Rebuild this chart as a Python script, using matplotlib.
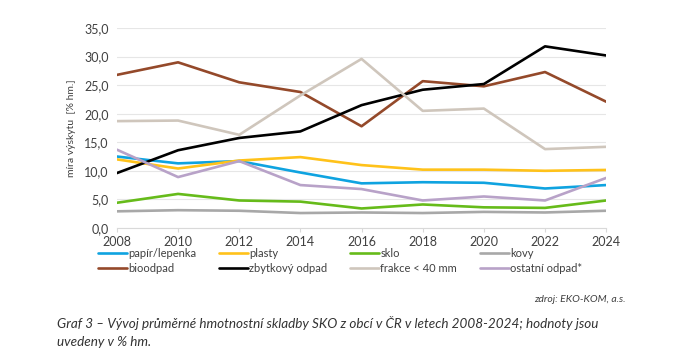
import numpy as np
import matplotlib
matplotlib.use('Agg')
import matplotlib.pyplot as plt

plt.rcParams['font.family'] = ['Lato', 'DejaVu Sans']

years = [2008, 2010, 2012, 2014, 2016, 2018, 2020, 2022, 2024]

papir = [12.5, 11.3, 11.7, 9.7, 7.8, 8.0, 7.9, 6.9, 7.5]
plasty = [12.0, 10.4, 11.8, 12.4, 11.0, 10.2, 10.2, 10.0, 10.15]
sklo = [4.4, 5.95, 4.8, 4.6, 3.4, 4.1, 3.6, 3.5, 4.8]
kovy = [2.9, 3.1, 3.0, 2.6, 2.7, 2.6, 2.8, 2.7, 3.0]
bioodpad = [26.8, 29.0, 25.5, 23.8, 17.8, 25.7, 24.8, 27.3, 22.1]
zbytkovy = [9.6, 13.6, 15.75, 16.9, 21.5, 24.2, 25.2, 31.8, 30.2]
frakce = [18.7, 18.8, 16.3, 23.2, 29.6, 20.5, 20.9, 13.8, 14.2]
ostatni = [13.7, 8.9, 11.7, 7.5, 6.8, 4.8, 5.5, 4.8, 8.75]

series = [
    ('papír/lepenka', papir, '#0FA3E0'),
    ('plasty', plasty, '#FFC21A'),
    ('sklo', sklo, '#66BB1A'),
    ('kovy', kovy, '#A8A8A8'),
    ('bioodpad', bioodpad, '#94492A'),
    ('zbytkový odpad', zbytkovy, '#000000'),
    ('frakce < 40 mm', frakce, '#CFC6BC'),
    ('ostatní odpad*', ostatni, '#B8A2C8'),
]

fig = plt.figure(figsize=(7, 3.6), dpi=100)
ax = fig.add_axes([0.167, 0.367, 0.699, 0.555])

lines = []
for name, vals, col in series:
    ln, = ax.plot(years, vals, color=col, lw=1.9, label=name, solid_capstyle='round')
    lines.append(ln)

ax.set_xlim(2008, 2024)
ax.set_ylim(0, 35)
ax.set_xticks(years)
ax.set_yticks(np.arange(0, 36, 5))
ax.set_yticklabels([f'{v:.1f}'.replace('.', ',') for v in np.arange(0, 36, 5)])
ax.grid(axis='y', color='#E6E6E6', lw=0.8)
ax.set_axisbelow(True)
for s in ['top', 'right', 'left']:
    ax.spines[s].set_visible(False)
ax.spines['bottom'].set_color('#D9D9D9')
ax.tick_params(axis='y', length=0, labelsize=9, colors='#404040', pad=6)
ax.tick_params(axis='x', length=3, color='#D9D9D9', labelsize=9, labelcolor='#404040', pad=3)
ax.set_ylabel('míra výskytu  [% hm.]', fontsize=7.5, color='#404040', labelpad=6)

# legend fills column-wise, so interleave the two rows
order = [0, 4, 1, 5, 2, 6, 3, 7]
fig.legend([lines[i] for i in order], [series[i][0] for i in order],
           loc='upper left', bbox_to_anchor=(98 / 700, 1 - 248 / 360, 484 / 700, 0),
           ncol=4, mode='expand', frameon=False, fontsize=8, handlelength=2.6,
           handletextpad=0.1, borderaxespad=0, borderpad=0, labelspacing=0.35,
           labelcolor='#404040')

fig.text(626 / 700, 1 - 300 / 360, 'zdroj: EKO-KOM, a.s.', ha='right', va='center',
         fontsize=7.5, style='italic', color='#404040')
fig.text(57 / 700, 1 - 323 / 360,
         'Graf 3 – Vývoj průměrné hmotnostní skladby SKO z obcí v ČR v letech 2008-2024; hodnoty jsou',
         ha='left', va='center', fontsize=9.7, style='italic', color='#333333')
fig.text(57 / 700, 1 - 342 / 360, 'uvedeny v % hm.', ha='left', va='center',
         fontsize=9.7, style='italic', color='#333333')

fig.savefig('out.png', dpi=100)
